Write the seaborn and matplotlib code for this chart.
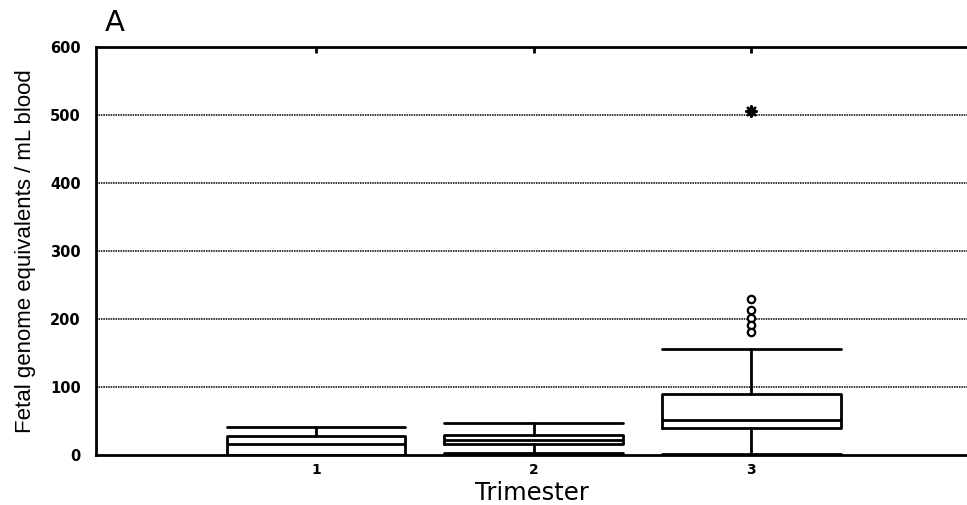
import matplotlib
matplotlib.use("Agg")
import matplotlib.pyplot as plt
import seaborn as sns
import pandas as pd

# ---- data ----
trimesters = ["1", "2", "3"]
whisker_low = [0, 3, 2]
q1 = [0, 16, 40]
median = [16, 22, 51]
q3 = [28, 29, 90]
whisker_high = [41, 47, 156]
outlier_trimester = ["3", "3", "3", "3", "3"]
outlier_values = [229, 213, 201, 191, 181]
extreme_trimester = ["3"]
extreme_values = [506]
y_ticks = [0, 100, 200, 300, 400, 500, 600]

sns.set_theme(style="white")
plt.rcParams["font.family"] = ["DejaVu Sans"]
plt.rcParams.update({"text.color": "black", "axes.labelcolor": "black",
                     "xtick.color": "black", "ytick.color": "black"})

fig = plt.figure(figsize=(9.67, 5.05), dpi=100)
ax = fig.add_axes([96 / 967, 50 / 505, 871 / 967, 408 / 505])

stats = []
for i, t in enumerate(trimesters):
    stats.append(dict(label=t, whislo=whisker_low[i], q1=q1[i], med=median[i],
                      q3=q3[i], whishi=whisker_high[i], fliers=[]))
positions = list(range(len(trimesters)))
line_kw = dict(color="black", linewidth=2)
ax.bxp(stats, positions=positions, widths=0.82, showfliers=False,
       boxprops=line_kw, medianprops=line_kw, whiskerprops=line_kw,
       capprops=line_kw, capwidths=0.82, patch_artist=False, zorder=3)

pos_map = {t: i for i, t in enumerate(trimesters)}
out_df = pd.DataFrame({"x": [pos_map[t] for t in outlier_trimester], "y": outlier_values})
ext_df = pd.DataFrame({"x": [pos_map[t] for t in extreme_trimester], "y": extreme_values})
sns.scatterplot(data=out_df, x="x", y="y", ax=ax, marker="o", s=28,
                facecolor="white", edgecolor="black", linewidth=1.6, zorder=4)
sns.scatterplot(data=ext_df, x="x", y="y", ax=ax, marker=(8, 2, 0), s=55,
                color="black", edgecolor="black", linewidth=1.8, zorder=4)

ax.set_xlim(-1.01, 2.99)
ax.set_ylim(0, 600)
ax.set_yticks(y_ticks)
ax.set_yticklabels([str(v) for v in y_ticks], fontweight="bold", fontsize=10.5)
ax.set_xticks(positions)
ax.set_xticklabels(trimesters, fontweight="bold", fontsize=10)

for v in y_ticks[1:-1]:
    ax.axhline(v, color="black", linestyle=(0, (1, 0.6)), linewidth=1.1, zorder=1)

ax.tick_params(axis="y", direction="out", length=4, width=1.2, color="black", pad=7)
ax.tick_params(axis="x", bottom=False, top=True, labelbottom=True, labeltop=False,
               length=4, width=2, direction="in", color="black", pad=6)

for side in ["left", "top", "bottom"]:
    ax.spines[side].set_color("black")
    ax.spines[side].set_linewidth(2)
    ax.spines[side].set_visible(True)
ax.spines["right"].set_visible(False)

ax.set_xlabel("Trimester", fontsize=17.5, labelpad=3, color="black")
ax.set_ylabel("Fetal genome equivalents / mL blood", fontsize=16, labelpad=10,
              family=["Liberation Sans", "DejaVu Sans"], color="black")
fig.text(105 / 967, 1 - 23 / 505, "A", fontsize=21, va="center", ha="left", color="black")

fig.savefig("out.png", dpi=100, facecolor="white")
